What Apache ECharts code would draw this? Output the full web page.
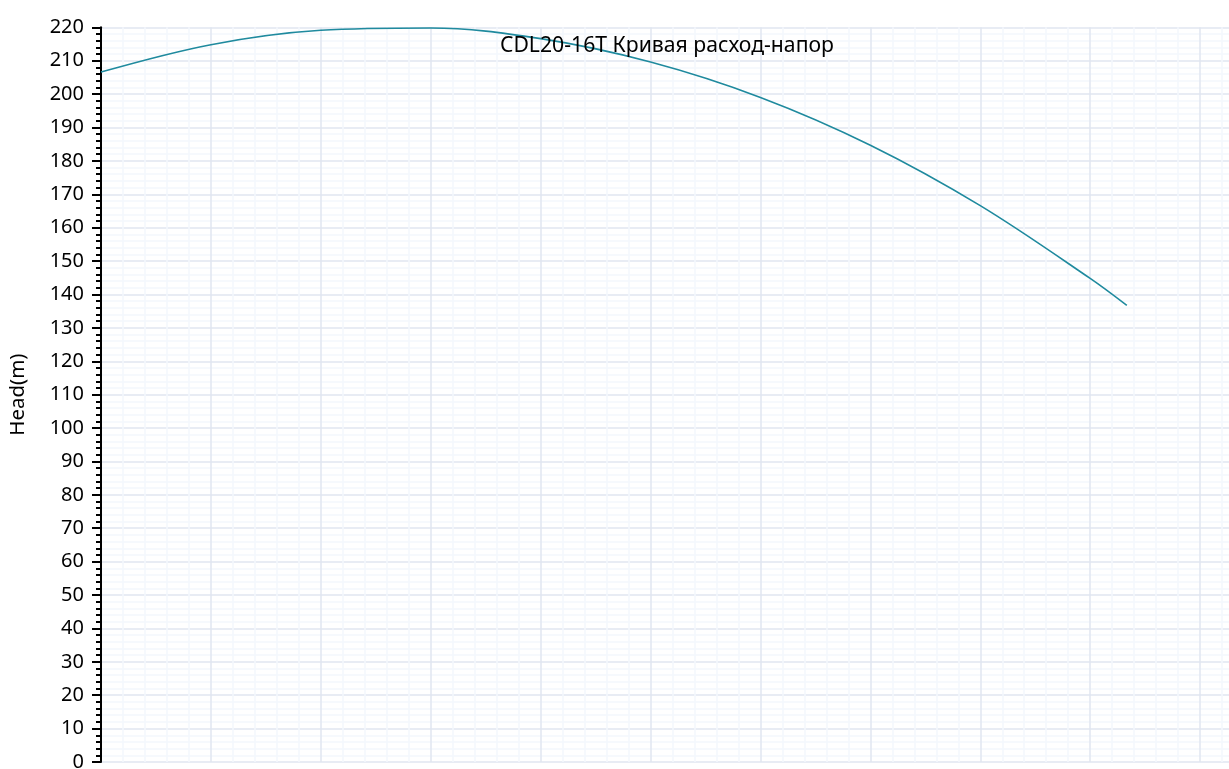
<!DOCTYPE html>
<html>
<head>
<meta charset="utf-8">
<script src="https://cdn.jsdelivr.net/npm/echarts@6/dist/echarts.min.js"></script>
<style>
html,body{margin:0;padding:0;background:#fff;overflow:hidden;width:1229px;height:769px;}
#chart{width:1310px;height:772px;}
</style>
</head>
<body>
<div id="chart"></div>
<script>
var titleText = "CDL20-16T Кривая расход-напор";
var yAxisName = "Head(m)";
var flow = [0, 3, 6, 9, 12, 15, 18, 21, 24, 27, 28];
var head = [206.6, 214.8, 219.1, 219.8, 216.6, 209.6, 199.0, 184.7, 166.6, 144.8, 136.7];

var points = flow.map(function (q, i) { return [q, head[i]]; });

var chart = echarts.init(document.getElementById('chart'));
chart.setOption({
  animation: false,
  backgroundColor: '#ffffff',
  title: {
    text: titleText,
    left: 495,
    top: 30,
    textStyle: { fontFamily: 'Noto Sans', fontSize: 21.2, fontWeight: 'normal', color: '#000' }
  },
  grid: { left: 100, top: 27.3, right: 0, bottom: 0, containLabel: false },
  xAxis: {
    type: 'value',
    min: 0,
    max: 33,
    interval: 3,
    axisLine: { show: false },
    axisTick: { show: false },
    axisLabel: { show: false },
    splitLine: { show: true, lineStyle: { color: '#E0E6F1', width: 1.5 } },
    minorTick: { show: false, splitNumber: 5 },
    minorSplitLine: { show: true, lineStyle: { color: '#F4F7FD', width: 1.5 } }
  },
  yAxis: {
    type: 'value',
    min: 0,
    max: 220,
    interval: 10,
    name: yAxisName,
    nameLocation: 'middle',
    nameGap: 72,
    nameRotate: 90,
    nameTextStyle: { fontFamily: 'Noto Sans', fontSize: 20.5, color: '#000' },
    axisLine: { show: true, lineStyle: { color: '#000', width: 2 } },
    axisTick: { show: true, length: 9, lineStyle: { color: '#000', width: 2 } },
    minorTick: { show: true, splitNumber: 5, length: 5, lineStyle: { color: '#000', width: 2 } },
    axisLabel: { fontFamily: 'Noto Sans', fontSize: 20, color: '#000', margin: 17 },
    splitLine: { show: true, lineStyle: { color: '#E0E6F1', width: 1.5 } },
    minorSplitLine: { show: true, lineStyle: { color: '#F4F7FD', width: 1.5 } }
  },
  series: [{
    type: 'line',
    data: points,
    smooth: 0.35,
    showSymbol: false,
    symbol: 'none',
    lineStyle: { color: '#1f8a9e', width: 1.6 },
    clip: true
  }]
});
</script>
</body>
</html>
